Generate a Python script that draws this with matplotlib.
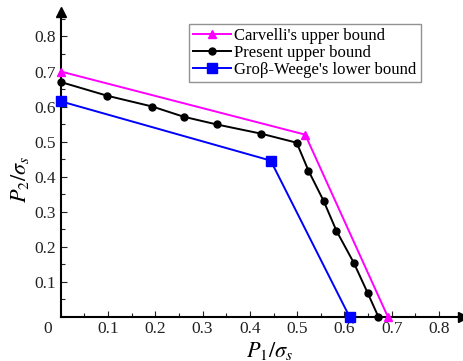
import matplotlib.pyplot as plt
import numpy as np
from matplotlib.ticker import MultipleLocator

plt.rcParams['font.family'] = ['Liberation Serif', 'DejaVu Serif']
plt.rcParams['mathtext.fontset'] = 'stix'

# Carvelli's upper bound
carv_x = [0.0, 0.517, 0.692]
carv_y = [0.70, 0.52, 0.0]
# present upper bound
pres_x = [0.0, 0.098, 0.194, 0.26, 0.33, 0.423, 0.499, 0.524, 0.556, 0.583, 0.62, 0.649, 0.672]
pres_y = [0.67, 0.631, 0.60, 0.571, 0.549, 0.523, 0.497, 0.417, 0.331, 0.246, 0.154, 0.069, 0.0]
# Gross-Weege lower bound
gw_x = [0.0, 0.444, 0.611]
gw_y = [0.615, 0.446, 0.0]

xticks = [0.1, 0.2, 0.3, 0.4, 0.5, 0.6, 0.7, 0.8]
yticks = [0.1, 0.2, 0.3, 0.4, 0.5, 0.6, 0.7, 0.8]

fig = plt.figure(figsize=(4.64, 3.61), dpi=100)
ax = fig.add_axes([0.131, 0.122, 0.866, 0.845])

ax.plot(carv_x, carv_y, color='#ff00ff', lw=1.4, marker='^', ms=6, label="Carvelli's upper bound", clip_on=False, zorder=3)
ax.plot(pres_x, pres_y, color='black', lw=1.4, marker='o', ms=5, label='Present upper bound', clip_on=False, zorder=4)
ax.plot(gw_x, gw_y, color='#0000ff', lw=1.4, marker='s', ms=7, label="Groβ-Weege's lower bound", clip_on=False, zorder=3)

ax.set_xlim(0, 0.85)
ax.set_ylim(0, 0.87)
ax.spines['top'].set_visible(False)
ax.spines['right'].set_visible(False)
ax.spines['left'].set_linewidth(1.5)
ax.spines['bottom'].set_linewidth(1.5)
# axis arrows
ax.plot(1, 0, '>', color='black', ms=7, transform=ax.transAxes, clip_on=False)
ax.plot(0, 1, '^', color='black', ms=7, transform=ax.transAxes, clip_on=False)

ax.set_xticks(xticks)
ax.set_yticks(yticks)
ax.xaxis.set_minor_locator(MultipleLocator(0.05))
ax.yaxis.set_minor_locator(MultipleLocator(0.05))
ax.tick_params(which='both', direction='in', length=4, width=0.8, labelsize=12.5, colors='#222222')
ax.tick_params(which='minor', length=3)
ax.tick_params(axis='x', pad=3)
ax.text(-0.027, -0.012, '0', transform=ax.transData, ha='center', va='top', fontsize=12.5, color='#222222')

ax.set_xlabel(r'$P_1/\sigma_s$', fontsize=16, labelpad=0)
ax.xaxis.set_label_coords(0.52, -0.075)
ax.set_ylabel(r'$P_2/\sigma_s$', fontsize=16, labelpad=0)
ax.yaxis.set_label_coords(-0.075, 0.45)

leg = ax.legend(loc='upper left', bbox_to_anchor=(0.318, 0.96), fontsize=12, frameon=True, fancybox=False,
                edgecolor='#777777', borderpad=0.25, labelspacing=0.05, handlelength=2.3, handletextpad=0.2,
                borderaxespad=0)
leg.get_frame().set_linewidth(1.0)

fig.savefig('out.png', dpi=100)
